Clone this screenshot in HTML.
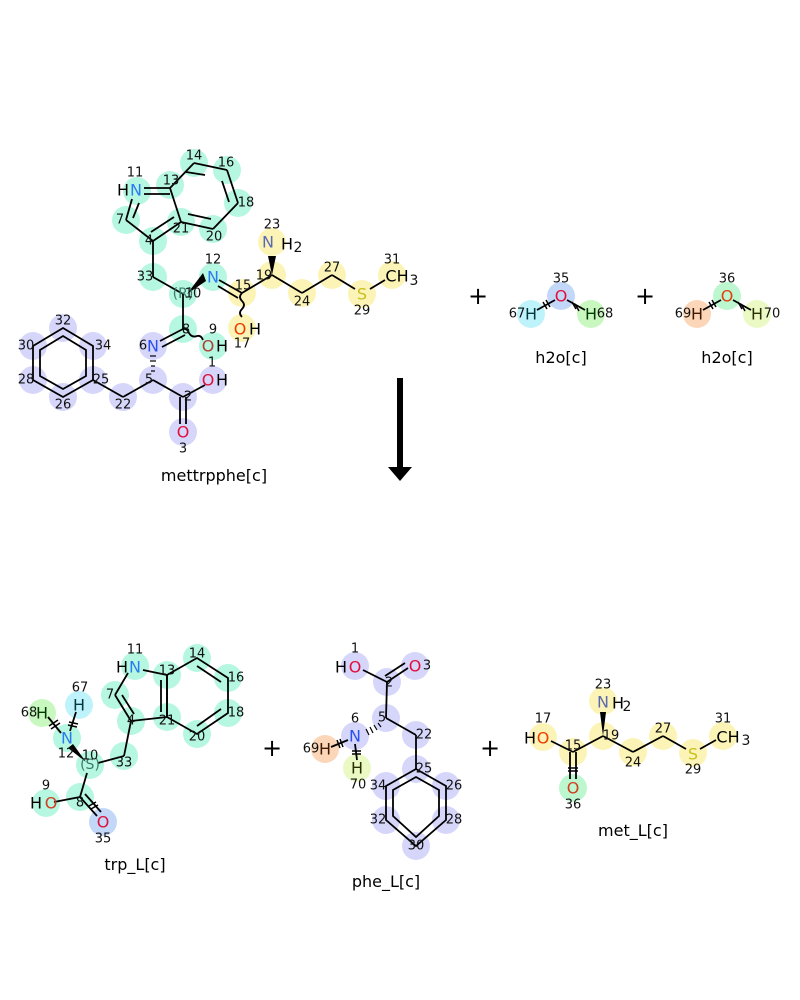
<!DOCTYPE html>
<html><head><meta charset="utf-8"><style>
html,body{margin:0;padding:0;background:#fff;}
svg{display:block;}
text{font-family:"DejaVu Sans","Liberation Sans",sans-serif;}
.a{font-size:16px;text-anchor:middle;dominant-baseline:central;}
.n{font-size:13px;text-anchor:middle;dominant-baseline:central;fill:#111;}
.l{font-size:16px;text-anchor:middle;fill:#000;}
.b{stroke:#000;stroke-width:1.8;fill:none;}
.T{fill:#b6f7e1}.P{fill:#d6d6fb}.Y{fill:#fcf4b6}.C{fill:#bff3fb}.B{fill:#c3d8f9}.G{fill:#c8f8c0}.O{fill:#fbd6b8}.L{fill:#ebfac4}.G2{fill:#bdf7cf}
</style></head><body>
<svg width="800" height="1000" viewBox="0 0 800 1000" xmlns="http://www.w3.org/2000/svg">
<g>
<circle class="T" cx="137" cy="191" r="14"/><circle class="T" cx="170" cy="185" r="14"/><circle class="T" cx="194" cy="163" r="14"/><circle class="T" cx="227" cy="170" r="14"/><circle class="T" cx="238" cy="203" r="14"/><circle class="T" cx="213" cy="229" r="14"/><circle class="T" cx="181" cy="222" r="14"/><circle class="T" cx="126" cy="220" r="14"/><circle class="T" cx="153" cy="241" r="14"/><circle class="T" cx="153" cy="277" r="14"/><circle class="T" cx="183" cy="294" r="14"/><circle class="T" cx="213" cy="277" r="14"/><circle class="T" cx="183" cy="329" r="14"/><circle class="T" cx="213" cy="346" r="14"/>
<circle class="Y" cx="242" cy="293" r="14"/><circle class="Y" cx="272" cy="275" r="14"/><circle class="Y" cx="272" cy="242" r="14"/><circle class="Y" cx="302" cy="293" r="14"/><circle class="Y" cx="332" cy="275" r="14"/><circle class="Y" cx="362" cy="294" r="14"/><circle class="Y" cx="392" cy="275" r="14"/><circle class="Y" cx="242" cy="328" r="14"/>
<circle class="P" cx="153" cy="346" r="14"/><circle class="P" cx="153" cy="380" r="14"/><circle class="P" cx="213" cy="380" r="14"/><circle class="P" cx="183" cy="397" r="14"/><circle class="P" cx="183" cy="432" r="14"/><circle class="P" cx="123" cy="397" r="14"/><circle class="P" cx="93" cy="380" r="14"/><circle class="P" cx="93" cy="346" r="14"/><circle class="P" cx="63" cy="328" r="14"/><circle class="P" cx="33" cy="346" r="14"/><circle class="P" cx="33" cy="380" r="14"/><circle class="P" cx="63" cy="397" r="14"/>
</g>
<g class="b">
<line x1="144" y1="188" x2="170" y2="188"/><line x1="144" y1="194" x2="170" y2="194"/>
<line x1="132" y1="199" x2="126" y2="220"/><line x1="139" y1="203" x2="133" y2="218"/>
<line x1="126" y1="220" x2="153" y2="241"/><line x1="153" y1="241" x2="181" y2="222"/><line x1="151" y1="232" x2="174" y2="217"/>
<line x1="170" y1="188" x2="181" y2="222"/><line x1="170" y1="188" x2="194" y2="163"/><line x1="194" y1="163" x2="227" y2="170"/><line x1="227" y1="170" x2="238" y2="203"/><line x1="238" y1="203" x2="213" y2="229"/><line x1="213" y1="229" x2="181" y2="222"/>
<line x1="186" y1="172" x2="205" y2="175"/><line x1="222" y1="181" x2="229" y2="202"/><line x1="211" y1="219" x2="188" y2="214"/>
<line x1="153" y1="241" x2="153" y2="277"/><line x1="153" y1="277" x2="183" y2="294"/><line x1="183" y1="294" x2="183" y2="329"/>
<line x1="219" y1="280" x2="242" y2="293"/><line x1="218" y1="286" x2="238" y2="298"/>
<line x1="242" y1="293" x2="272" y2="275"/><line x1="272" y1="275" x2="302" y2="293"/><line x1="302" y1="293" x2="332" y2="275"/><line x1="332" y1="275" x2="355" y2="289"/><line x1="370" y1="289" x2="385" y2="280"/>
<path d="M242 293 q-4 4 0 8 q4 4 0 8 q-4 4 0 8"/>
<path d="M183 329 q4 -1 6 4 q3 5 8 3 q4 -1 6 4"/>
<line x1="160" y1="341" x2="183" y2="329"/><line x1="162" y1="347" x2="185" y2="335"/>
<line x1="153" y1="380" x2="183" y2="397"/><line x1="183" y1="397" x2="205" y2="385"/>
<line x1="180" y1="397" x2="180" y2="424"/><line x1="186" y1="397" x2="186" y2="424"/>
<line x1="153" y1="380" x2="123" y2="397"/><line x1="123" y1="397" x2="93" y2="380"/>
<polygon points="63,328 93,346 93,380 63,397 33,380 33,346" />
<polygon points="63,336 86,350 86,376 63,389 40,376 40,350" />
</g>
<polygon points="203,273 206,281 187,294" fill="#000"/>
<polygon points="268,256 276,256 272,275" fill="#000"/>
<g stroke="#000" stroke-width="1.2"><line x1="150" y1="356" x2="156" y2="356"/><line x1="150" y1="361" x2="156" y2="361"/><line x1="151" y1="366" x2="155" y2="366"/><line x1="151" y1="371" x2="155" y2="371"/></g>
<text class="a" x="136" y="190" fill="#2a7cf0">N</text><text class="a" x="123" y="190">H</text>
<text class="a" x="213" y="277" fill="#2a7cf0">N</text><text class="a" x="153" y="346" fill="#2a50f0">N</text>
<text class="a" x="268" y="242" fill="#5a6ab0">N</text><text class="a" x="287" y="244">H</text><text class="n" x="298" y="248" style="font-size:14px">2</text>
<text class="a" x="362" y="294" fill="#c8c020">S</text><text class="a" x="397" y="276">CH</text><text class="n" x="414" y="281" style="font-size:14px">3</text>
<text class="a" x="240" y="329" fill="#f03c00">O</text><text class="a" x="255" y="329">H</text>
<text class="a" x="208" y="346" fill="#b04030">O</text><text class="a" x="222" y="346">H</text>
<text class="a" x="208" y="380" fill="#e0103c">O</text><text class="a" x="222" y="380">H</text>
<text class="a" x="183" y="432" fill="#e0103c">O</text>
<text class="a" x="183" y="294" fill="#3a7a6a" style="font-size:14px">(R)</text>
<g class="n">
<text x="135" y="173">11</text><text x="171" y="181">13</text><text x="194" y="156">14</text><text x="226" y="163">16</text><text x="246" y="203">18</text><text x="214" y="237">20</text><text x="181" y="229">21</text><text x="120" y="220">7</text><text x="149" y="241">4</text><text x="145" y="277">33</text><text x="193" y="294">10</text><text x="213" y="260">12</text><text x="243" y="286">15</text><text x="264" y="276">19</text><text x="272" y="225">23</text><text x="302" y="302">24</text><text x="332" y="268">27</text><text x="362" y="311">29</text><text x="392" y="260">31</text><text x="242" y="344">17</text><text x="186" y="330">8</text><text x="213" y="330">9</text><text x="143" y="346">6</text><text x="149" y="380">5</text><text x="212" y="363">1</text><text x="188" y="397">2</text><text x="183" y="449">3</text><text x="123" y="405">22</text><text x="101" y="380">25</text><text x="103" y="346">34</text><text x="63" y="321">32</text><text x="26" y="346">30</text><text x="26" y="380">28</text><text x="63" y="405">26</text>
</g>
<text class="l" x="214" y="481">mettrpphe[c]</text>

<text x="478" y="304" style="font-size:24px" text-anchor="middle">+</text>
<text x="645" y="304" style="font-size:24px" text-anchor="middle">+</text>
<circle class="C" cx="531" cy="314" r="14"/><circle class="B" cx="561" cy="296" r="14"/><circle class="G" cx="591" cy="314" r="14"/>
<circle class="O" cx="697" cy="314" r="14"/><circle class="G2" cx="727" cy="296" r="14"/><circle class="L" cx="757" cy="314" r="14"/>
<g class="b"><line x1="537" y1="310" x2="555" y2="300"/><line x1="567" y1="300" x2="585" y2="310"/><line x1="703" y1="310" x2="721" y2="300"/><line x1="733" y1="300" x2="751" y2="310"/></g>
<g stroke="#000" stroke-width="1.5"><line x1="543" y1="302" x2="547" y2="309"/><line x1="546" y1="300" x2="550" y2="307"/><line x1="572" y1="302" x2="576" y2="309"/><line x1="575" y1="304" x2="579" y2="311"/><line x1="709" y1="302" x2="713" y2="309"/><line x1="712" y1="300" x2="716" y2="307"/><line x1="738" y1="302" x2="742" y2="309"/><line x1="741" y1="304" x2="745" y2="311"/></g>
<text class="a" x="531" y="314" fill="#003a40">H</text><text class="a" x="561" y="296" fill="#e0103c">O</text><text class="a" x="591" y="314" fill="#003a00">H</text>
<text class="a" x="697" y="314" fill="#401800">H</text><text class="a" x="727" y="296" fill="#e04010">O</text><text class="a" x="757" y="314" fill="#283000">H</text>
<g class="n"><text x="561" y="279">35</text><text x="517" y="314">67</text><text x="605" y="314">68</text><text x="727" y="279">36</text><text x="683" y="314">69</text><text x="772" y="314">70</text></g>
<text class="l" x="561" y="363">h2o[c]</text><text class="l" x="727" y="363">h2o[c]</text>

<rect x="397" y="378" width="6" height="92" fill="#000"/>
<polygon points="388,467 412,467 400,481" fill="#000"/>

<g>
<circle class="T" cx="135" cy="666" r="14"/><circle class="T" cx="167" cy="675" r="14"/><circle class="T" cx="197" cy="658" r="14"/><circle class="T" cx="228" cy="678" r="14"/><circle class="T" cx="228" cy="713" r="14"/><circle class="T" cx="197" cy="734" r="14"/><circle class="T" cx="167" cy="717" r="14"/><circle class="T" cx="115" cy="695" r="14"/><circle class="T" cx="131" cy="721" r="14"/><circle class="T" cx="124" cy="756" r="14"/><circle class="T" cx="90" cy="765" r="14"/><circle class="T" cx="80" cy="797" r="14"/><circle class="T" cx="46" cy="803" r="14"/>
<circle class="T" cx="67" cy="738" r="14"/><circle class="C" cx="79" cy="705" r="14"/><circle class="G" cx="42" cy="713" r="14"/><circle class="B" cx="103" cy="822" r="14"/>
</g>
<g class="b">
<line x1="143" y1="670" x2="167" y2="675"/><line x1="128" y1="673" x2="115" y2="695"/><line x1="115" y1="695" x2="131" y2="721"/><line x1="122" y1="695" x2="134" y2="714"/>
<line x1="131" y1="721" x2="167" y2="717"/><line x1="167" y1="675" x2="167" y2="717"/><line x1="161" y1="680" x2="161" y2="712"/>
<polygon points="167,675 197,658 228,678 228,713 197,734 167,717"/>
<line x1="197" y1="666" x2="221" y2="682"/><line x1="221" y1="709" x2="197" y2="726"/>
<line x1="131" y1="721" x2="124" y2="756"/><line x1="124" y1="756" x2="98" y2="763"/>
<line x1="87" y1="773" x2="80" y2="797"/><line x1="80" y1="797" x2="54" y2="802"/>
<line x1="80" y1="797" x2="97" y2="816"/><line x1="85" y1="794" x2="101" y2="812"/>
<line x1="61" y1="733" x2="48" y2="717"/><line x1="70" y1="731" x2="76" y2="712"/>
</g>
<polygon points="73,744 68,748 86,762" fill="#000"/>
<g stroke="#000" stroke-width="1.5"><line x1="49" y1="726" x2="58" y2="720"/><line x1="51" y1="729" x2="60" y2="723"/><line x1="69" y1="722" x2="78" y2="724"/><line x1="68" y1="725" x2="77" y2="727"/><line x1="89" y1="806" x2="96" y2="802"/><line x1="91" y1="809" x2="98" y2="805"/></g>
<text class="a" x="135" y="667" fill="#2a7cf0">N</text><text class="a" x="122" y="667">H</text>
<text class="a" x="67" y="738" fill="#2a7cf0">N</text><text class="a" x="79" y="705" fill="#003a40">H</text><text class="a" x="42" y="713" fill="#003a00">H</text>
<text class="a" x="51" y="803" fill="#d04020">O</text><text class="a" x="36" y="803">H</text><text class="a" x="103" y="822" fill="#e0103c">O</text>
<text class="a" x="90" y="765" fill="#3a7a6a" style="font-size:14px">(S)</text>
<g class="n"><text x="135" y="650">11</text><text x="167" y="671">13</text><text x="197" y="654">14</text><text x="236" y="678">16</text><text x="236" y="713">18</text><text x="197" y="737">20</text><text x="167" y="721">21</text><text x="110" y="695">7</text><text x="131" y="721">4</text><text x="124" y="763">33</text><text x="90" y="756">10</text><text x="66" y="754">12</text><text x="80" y="688">67</text><text x="29" y="713">68</text><text x="46" y="786">9</text><text x="80" y="803">8</text><text x="103" y="839">35</text></g>
<text class="l" x="135" y="870">trp_L[c]</text>
<text x="272" y="756" style="font-size:24px" text-anchor="middle">+</text>

<g>
<circle class="P" cx="355" cy="666" r="14"/><circle class="P" cx="415" cy="666" r="14"/><circle class="P" cx="387" cy="682" r="14"/><circle class="P" cx="386" cy="718" r="14"/><circle class="P" cx="355" cy="736" r="14"/><circle class="O" cx="325" cy="749" r="14"/><circle class="L" cx="357" cy="768" r="14"/><circle class="P" cx="416" cy="735" r="14"/><circle class="P" cx="416" cy="769" r="14"/><circle class="P" cx="446" cy="786" r="14"/><circle class="P" cx="446" cy="820" r="14"/><circle class="P" cx="416" cy="846" r="14"/><circle class="P" cx="386" cy="820" r="14"/><circle class="P" cx="386" cy="786" r="14"/>
</g>
<g class="b">
<line x1="363" y1="670" x2="387" y2="682"/><line x1="387" y1="682" x2="408" y2="668"/><line x1="385" y1="676" x2="405" y2="663"/>
<line x1="387" y1="682" x2="386" y2="718"/><line x1="386" y1="718" x2="416" y2="735"/><line x1="416" y1="735" x2="416" y2="769"/>
<polygon points="416,769 446,786 446,820 416,846 386,820 386,786"/>
<polygon points="416,777 439,790 439,816 416,837 393,816 393,790"/>
<line x1="348" y1="740" x2="331" y2="747"/><line x1="355" y1="744" x2="357" y2="760"/>
</g>
<g stroke="#000" stroke-width="1.2"><line x1="366" y1="729" x2="369" y2="735"/><line x1="370" y1="727" x2="373" y2="733"/><line x1="374" y1="725" x2="377" y2="730"/><line x1="378" y1="723" x2="381" y2="727"/></g>
<g stroke="#000" stroke-width="1.5"><line x1="337" y1="740" x2="340" y2="748"/><line x1="340" y1="739" x2="343" y2="747"/><line x1="352" y1="751" x2="361" y2="751"/><line x1="352" y1="754" x2="361" y2="754"/></g>
<text class="a" x="355" y="667" fill="#e0103c">O</text><text class="a" x="341" y="667">H</text><text class="a" x="415" y="666" fill="#e0103c">O</text>
<text class="a" x="355" y="736" fill="#2a50f0">N</text><text class="a" x="325" y="749" fill="#401800">H</text><text class="a" x="357" y="768" fill="#283000">H</text>
<g class="n"><text x="355" y="649">1</text><text x="427" y="666">3</text><text x="389" y="683">2</text><text x="382" y="718">5</text><text x="355" y="719">6</text><text x="311" y="749">69</text><text x="358" y="785">70</text><text x="424" y="735">22</text><text x="424" y="769">25</text><text x="454" y="786">26</text><text x="454" y="820">28</text><text x="416" y="846">30</text><text x="378" y="820">32</text><text x="378" y="786">34</text></g>
<text class="l" x="386" y="887">phe_L[c]</text>
<text x="490" y="756" style="font-size:24px" text-anchor="middle">+</text>

<g>
<circle class="Y" cx="543" cy="737" r="14"/><circle class="Y" cx="573" cy="752" r="14"/><circle class="G2" cx="573" cy="788" r="14"/><circle class="Y" cx="603" cy="736" r="14"/><circle class="Y" cx="603" cy="701" r="14"/><circle class="Y" cx="633" cy="752" r="14"/><circle class="Y" cx="663" cy="736" r="14"/><circle class="Y" cx="693" cy="753" r="14"/><circle class="Y" cx="723" cy="736" r="14"/>
</g>
<g class="b">
<line x1="551" y1="741" x2="573" y2="752"/><line x1="573" y1="752" x2="603" y2="736"/><line x1="603" y1="736" x2="633" y2="752"/><line x1="633" y1="752" x2="663" y2="736"/><line x1="663" y1="736" x2="686" y2="749"/><line x1="700" y1="749" x2="716" y2="740"/>
<line x1="570" y1="752" x2="570" y2="779"/><line x1="576" y1="752" x2="576" y2="779"/>
</g>
<polygon points="600,712 606,712 603,736" fill="#000"/>
<g stroke="#000" stroke-width="1.5"><line x1="568" y1="768" x2="578" y2="768"/><line x1="568" y1="771" x2="578" y2="771"/></g>
<text class="a" x="543" y="738" fill="#f03c00">O</text><text class="a" x="530" y="738">H</text><text class="a" x="573" y="788" fill="#d04020">O</text>
<text class="a" x="603" y="702" fill="#5a6ab0">N</text><text class="a" x="618" y="703">H</text><text class="n" x="627" y="707" style="font-size:14px">2</text>
<text class="a" x="693" y="754" fill="#c8c020">S</text><text class="a" x="728" y="737">CH</text><text class="n" x="746" y="741" style="font-size:14px">3</text>
<g class="n"><text x="543" y="719">17</text><text x="573" y="746">15</text><text x="573" y="805">36</text><text x="611" y="736">19</text><text x="603" y="685">23</text><text x="633" y="763">24</text><text x="663" y="729">27</text><text x="693" y="770">29</text><text x="723" y="719">31</text></g>
<text class="l" x="633" y="836">met_L[c]</text>
</svg>
</body></html>
